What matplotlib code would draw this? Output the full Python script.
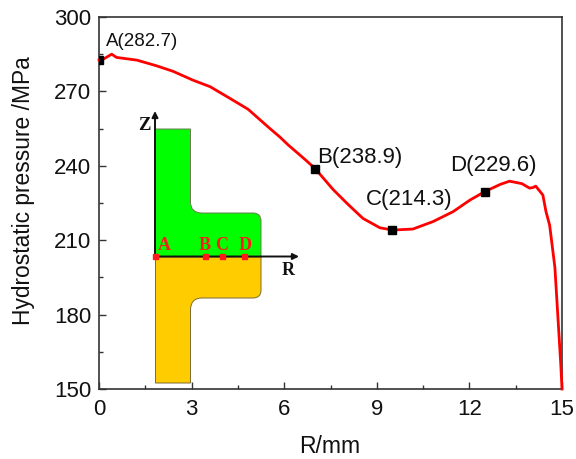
import matplotlib
matplotlib.use("Agg")
import matplotlib.pyplot as plt
from matplotlib.path import Path
from matplotlib.patches import PathPatch
from matplotlib.ticker import MultipleLocator

plt.rcParams['font.family'] = ['Liberation Sans', 'DejaVu Sans']

R = [0, 0.14, 0.41, 0.57, 1.23, 1.87, 2.4, 3.05, 3.6, 4.24, 4.83, 5.54, 5.86, 6.13, 6.67, 7.0, 7.58, 8.03,
     8.55, 9.1, 9.52, 10.17, 10.82, 11.47, 12.02, 12.5, 13.0, 13.3, 13.7, 13.95, 14.05, 14.15, 14.38,
     14.48, 14.6, 14.77, 14.96, 15.0]
P = [282.7, 283, 285, 283.7, 282.6, 280.3, 278.1, 274.5, 271.9, 267.2, 262.8, 255, 251.6, 248.4, 242.6, 238.9, 230.5, 224.9,
     218.8, 215, 214.1, 214.5, 217.5, 221.5, 226.2, 229.6, 232.5, 233.8, 232.8, 231, 231.2, 231.8, 228.2,
     221.6, 216, 199, 160, 150]
mark_R = [0, 7, 9.5, 12.5]
mark_P = [282.7, 238.9, 214.3, 229.6]
mark_labels = ['A(282.7)', 'B(238.9)', 'C(214.3)', 'D(229.6)']
label_pos = [(0.23, 290.3), (7.06, 243.4), (8.65, 226.4), (11.37, 240.3)]
label_size = [13.5, 16, 16, 16]

W, H = 576, 459
fig = plt.figure(figsize=(W/100, H/100), dpi=100)
ax = fig.add_axes([99/W, 1-389/H, (562-99)/W, (389-17)/H])
ax.plot(R, P, color='#ff0000', lw=2.0, zorder=3, clip_on=False)
ax.plot(mark_R, mark_P, ls='none', marker='s', ms=5.6, color='black', zorder=4, clip_on=True)
for (lx, ly), t, s in zip(label_pos, mark_labels, label_size):
    ax.text(lx, ly, t, fontsize=s, color='#111111', ha='left', va='center')
ax.set_xlim(0, 15)
ax.set_ylim(150, 300)
ax.xaxis.set_major_locator(MultipleLocator(3))
ax.xaxis.set_minor_locator(MultipleLocator(1.5))
ax.yaxis.set_major_locator(MultipleLocator(30))
ax.yaxis.set_minor_locator(MultipleLocator(15))
ax.tick_params(which='major', direction='in', length=5, width=1.0, labelsize=16, labelcolor='#111111', color='#333333')
ax.tick_params(axis='x', which='major', pad=7.5)
ax.tick_params(axis='y', which='major', pad=5.5)
ax.tick_params(which='minor', direction='in', length=3, width=1.0, color='#333333')
for s in ax.spines.values():
    s.set_linewidth(1.2)
    s.set_color('#333333')
ax.set_xlabel('R/mm', fontsize=16.5, color='#111111')
ax.xaxis.set_label_coords(330/W, 1-435/H, transform=fig.transFigure)
ax.set_ylabel('Hydrostatic pressure /MPa', fontsize=16.4, color='#111111')
ax.yaxis.set_label_coords(35/W, 1-190.5/H, transform=fig.transFigure)

# Inset schematic, placed in picture pixels
ov = fig.add_axes([0, 0, 1, 1], facecolor='none')
ov.set_xlim(0, W); ov.set_ylim(H, 0); ov.axis('off')
M, L, Q = Path.MOVETO, Path.LINETO, Path.CURVE3
green_v = [(155.5, 257), (155.5, 129), (190.5, 129), (190.5, 202), (190.5, 213), (202, 213), (253, 213),
           (261, 213), (261, 221), (261, 257), (155.5, 257)]
green_c = [M, L, L, L, Q, Q, L, Q, Q, L, L]
orange_v = [(155.5, 257), (261, 257), (261, 290), (261, 298), (253, 298), (202, 298), (190.5, 298),
            (190.5, 310), (190.5, 383), (155.5, 383), (155.5, 257)]
orange_c = [M, L, L, Q, Q, L, Q, Q, L, L, L]
ov.add_patch(PathPatch(Path(green_v, green_c), fc='#00ff00', ec='#6a7a55', lw=0.7))
ov.add_patch(PathPatch(Path(orange_v, orange_c), fc='#ffcc00', ec='#7a6a35', lw=0.7))
ov.annotate('', xy=(155, 111), xytext=(155, 257),
            arrowprops=dict(arrowstyle='-|>', color='#111111', lw=1.4, mutation_scale=9, shrinkA=0, shrinkB=0))
ov.annotate('', xy=(299, 256.5), xytext=(155, 256.5),
            arrowprops=dict(arrowstyle='-|>', color='#111111', lw=1.4, mutation_scale=9, shrinkA=0, shrinkB=0))
pt_x = [155, 205, 222.3, 244]
pt_names = ['A', 'B', 'C', 'D']
name_x = [164, 205, 222, 245]
ov.plot(pt_x, [255.5]*4, ls='none', marker='s', ms=3.6, color='#ff1a1a', zorder=5)
serif = ['Liberation Serif', 'DejaVu Serif']
for x, t in zip(name_x, pt_names):
    ov.text(x, 250, t, family=serif, weight='bold', fontsize=13, color='#ff1a1a', ha='center', va='baseline')
ov.text(144, 130.5, 'Z', family=serif, weight='bold', fontsize=13.5, color='#111111', ha='center', va='baseline')
ov.text(288, 275, 'R', family=serif, weight='bold', fontsize=13, color='#111111', ha='center', va='baseline')

fig.savefig('out.png', dpi=100)
